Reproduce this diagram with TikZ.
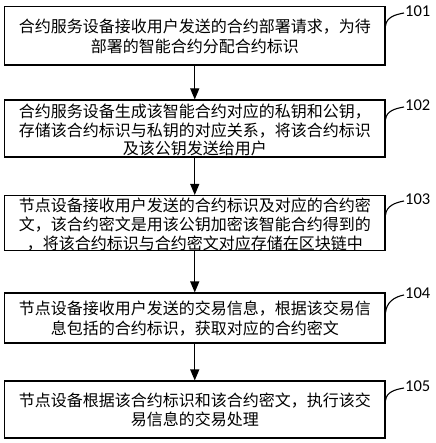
\documentclass[tikz,border=0pt]{standalone}
\usepackage{fontspec}
\newfontfamily\cjk{Noto Sans CJK SC}
\newfontfamily\numfont{Carlito}
\usetikzlibrary{arrows.meta}
\begin{document}
\begin{tikzpicture}[x=1pt,y=1pt,
  stepbox/.style={draw=black,line width=1.1pt,rectangle,minimum width=380.5pt,inner sep=0pt},
  txt/.style={align=center,inner sep=0pt,font=\cjk\fontsize{16pt}{19.5pt}\selectfont},
  tight/.style={font=\cjk\fontsize{16pt}{18.8pt}\selectfont},
  arr/.style={line width=1.1pt,-{Triangle[length=11pt,width=9pt]}},
  lbl/.style={anchor=west,inner sep=0pt,font=\numfont\fontsize{16.5pt}{18pt}\selectfont},
  tick/.style={line width=1.1pt}]
\useasboundingbox (0,0) rectangle (435,-443);
\fill[white] (0,0) rectangle (435,-443);
\node[stepbox,minimum height=58.5pt,label={[txt,yshift=-0.5pt]center:{合约服务设备接收用户发送的合约部署请求，为待\\部署的智能合约分配合约标识}}] (b1) at (194.75,-35.75) {};
\node[stepbox,minimum height=57pt,label={[txt,tight,yshift=-1.5pt]center:{合约服务设备生成该智能合约对应的私钥和公钥，\\存储该合约标识与私钥的对应关系，将该合约标识\\及该公钥发送给用户}}] (b2) at (194.75,-128.5) {};
\node[stepbox,minimum height=55pt,label={[txt,tight,yshift=-1.5pt]center:{节点设备接收用户发送的合约标识及对应的合约密\\文，该合约密文是用该公钥加密该智能合约得到的\\，将该合约标识与合约密文对应存储在区块链中}}] (b3) at (194.75,-223) {};
\node[stepbox,minimum height=50pt,label={[txt,yshift=-0.5pt]center:{节点设备接收用户发送的交易信息，根据该交易信\\息包括的合约标识，获取对应的合约密文}}] (b4) at (194.75,-318) {};
\node[stepbox,minimum height=57pt,label={[txt,yshift=-0.5pt]center:{节点设备根据该合约标识和该合约密文，执行该交\\易信息的交易处理}}] (b5) at (194.75,-409.5) {};
\draw[arr] (b1.south) -- (b2.north);
\draw[arr] (b2.south) -- (b3.north);
\draw[arr] (b3.south) -- (b4.north);
\draw[arr] (b4.south) -- (b5.north);
\node[lbl] (l1) at (405,-11) {101};
\node[lbl] (l2) at (405,-105) {102};
\node[lbl] (l3) at (405,-199) {103};
\node[lbl] (l4) at (405,-293) {104};
\node[lbl] (l5) at (405,-386) {105};
\foreach \i in {1,...,5}{
  \draw[tick] ([yshift=-20pt]b\i.north east) to[out=85,in=190] ([xshift=-1pt,yshift=-2pt]l\i.west);
}
\end{tikzpicture}
\end{document}
